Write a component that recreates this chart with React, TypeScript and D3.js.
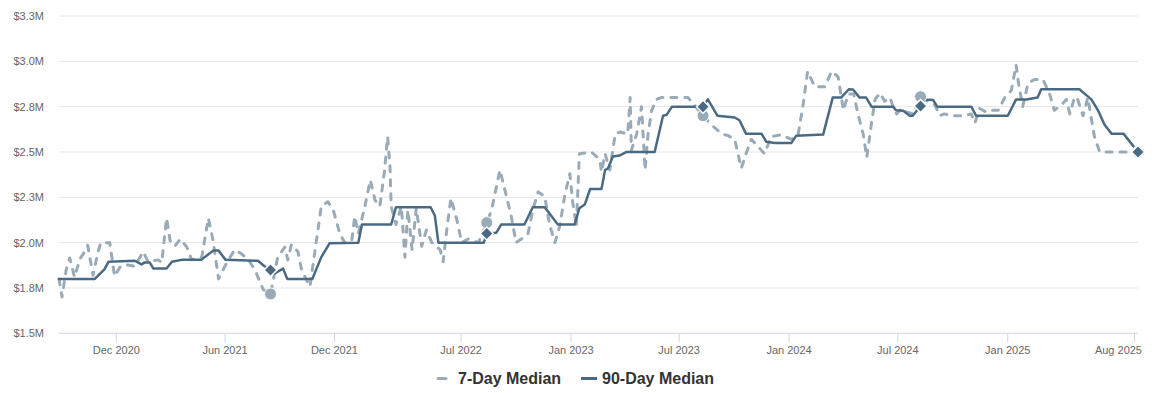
import React from "react";
import * as d3 from "d3";

const yTickValues = [1.5, 1.75, 2.0, 2.25, 2.5, 2.75, 3.0, 3.25];
const yTickLabels = ["$1.5M", "$1.8M", "$2.0M", "$2.3M", "$2.5M", "$2.8M", "$3.0M", "$3.3M"];

const xTickDates = ["2020-12-01", "2021-06-01", "2021-12-01", "2022-07-01", "2023-01-01", "2023-07-01", "2024-01-01", "2024-07-01", "2025-01-01", "2025-08-01"];
const xTickLabels = ["Dec 2020", "Jun 2021", "Dec 2021", "Jul 2022", "Jan 2023", "Jul 2023", "Jan 2024", "Jul 2024", "Jan 2025", "Aug 2025"];

const domainDates = ["2020-08-27", "2025-08-07"];

const markerDates = ["2021-08-16", "2022-08-13", "2023-08-10", "2024-08-08", "2025-08-07"];

const sevenDay: [string, number][] = [
  ["2020-08-27", 1.80], ["2020-09-01", 1.70], ["2020-09-08", 1.85], ["2020-09-14", 1.915], ["2020-09-22", 1.81],
  ["2020-10-01", 1.91], ["2020-10-11", 1.96], ["2020-10-14", 1.985], ["2020-10-23", 1.82], ["2020-10-31", 1.945],
  ["2020-11-05", 2.0], ["2020-11-20", 2.0], ["2020-11-28", 1.815], ["2020-12-08", 1.87], ["2020-12-18", 1.877],
  ["2021-01-01", 1.87], ["2021-01-15", 1.95], ["2021-01-23", 1.895], ["2021-02-09", 1.905], ["2021-02-15", 1.89],
  ["2021-02-23", 2.135], ["2021-03-01", 2.01], ["2021-03-09", 1.98], ["2021-03-18", 2.02], ["2021-03-29", 1.975],
  ["2021-04-06", 1.905], ["2021-04-23", 1.92], ["2021-05-04", 2.135], ["2021-05-12", 2.01], ["2021-05-21", 1.80],
  ["2021-06-03", 1.885], ["2021-06-17", 1.96], ["2021-06-28", 1.94], ["2021-07-10", 1.905], ["2021-07-21", 1.85],
  ["2021-08-04", 1.74], ["2021-08-16", 1.717], ["2021-08-28", 1.92], ["2021-09-09", 1.975], ["2021-09-14", 1.905],
  ["2021-09-20", 1.99], ["2021-10-01", 1.95], ["2021-10-07", 1.85], ["2021-10-21", 1.757], ["2021-11-01", 2.015],
  ["2021-11-09", 2.2], ["2021-11-20", 2.226], ["2021-11-29", 2.18], ["2021-12-10", 2.05], ["2021-12-18", 2.0],
  ["2021-12-30", 2.01], ["2022-01-04", 2.145], ["2022-01-10", 2.05], ["2022-01-21", 2.2], ["2022-01-30", 2.345],
  ["2022-02-07", 2.235], ["2022-02-15", 2.2], ["2022-02-23", 2.40], ["2022-02-28", 2.585], ["2022-03-04", 2.42],
  ["2022-03-06", 2.2], ["2022-03-14", 2.10], ["2022-03-23", 2.2], ["2022-03-29", 1.92], ["2022-04-03", 2.18],
  ["2022-04-10", 1.96], ["2022-04-17", 2.19], ["2022-04-26", 1.98], ["2022-05-04", 2.07], ["2022-05-13", 2.0],
  ["2022-05-27", 1.96], ["2022-06-01", 1.895], ["2022-06-07", 2.07], ["2022-06-14", 2.245], ["2022-06-24", 2.125],
  ["2022-07-02", 2.0], ["2022-07-13", 2.02], ["2022-07-30", 2.0], ["2022-08-13", 2.11], ["2022-08-21", 2.18],
  ["2022-09-04", 2.40], ["2022-09-15", 2.255], ["2022-09-23", 2.145], ["2022-10-01", 2.0], ["2022-10-10", 2.02],
  ["2022-10-21", 2.05], ["2022-10-29", 2.18], ["2022-11-07", 2.28], ["2022-11-18", 2.255], ["2022-11-26", 2.10],
  ["2022-12-05", 2.0], ["2022-12-13", 2.09], ["2022-12-22", 2.27], ["2022-12-30", 2.38], ["2023-01-04", 2.22],
  ["2023-01-10", 2.09], ["2023-01-15", 2.49], ["2023-02-04", 2.50], ["2023-02-18", 2.46], ["2023-02-21", 2.39],
  ["2023-02-27", 2.49], ["2023-03-07", 2.40], ["2023-03-16", 2.60], ["2023-03-24", 2.61], ["2023-04-06", 2.60],
  ["2023-04-10", 2.80], ["2023-04-12", 2.51], ["2023-04-21", 2.60], ["2023-04-29", 2.75], ["2023-05-05", 2.40],
  ["2023-05-10", 2.60], ["2023-05-16", 2.73], ["2023-05-24", 2.79], ["2023-06-01", 2.80], ["2023-06-12", 2.80],
  ["2023-06-24", 2.80], ["2023-07-05", 2.80], ["2023-07-16", 2.80], ["2023-08-10", 2.70], ["2023-08-24", 2.65],
  ["2023-09-10", 2.60], ["2023-09-21", 2.59], ["2023-10-02", 2.57], ["2023-10-13", 2.41], ["2023-10-22", 2.50],
  ["2023-10-30", 2.57], ["2023-11-10", 2.53], ["2023-11-21", 2.49], ["2023-12-02", 2.585], ["2023-12-19", 2.595],
  ["2024-01-05", 2.57], ["2024-01-16", 2.595], ["2024-01-24", 2.75], ["2024-02-01", 2.945], ["2024-02-13", 2.86],
  ["2024-03-01", 2.86], ["2024-03-12", 2.945], ["2024-03-23", 2.915], ["2024-04-01", 2.73], ["2024-04-09", 2.82],
  ["2024-04-18", 2.82], ["2024-04-26", 2.70], ["2024-05-04", 2.60], ["2024-05-10", 2.47], ["2024-05-18", 2.66],
  ["2024-05-24", 2.79], ["2024-06-01", 2.825], ["2024-06-09", 2.78], ["2024-06-18", 2.80], ["2024-06-23", 2.75],
  ["2024-06-29", 2.71], ["2024-07-07", 2.74], ["2024-07-16", 2.72], ["2024-07-27", 2.71], ["2024-08-08", 2.805],
  ["2024-08-20", 2.78], ["2024-09-01", 2.76], ["2024-09-09", 2.70], ["2024-09-17", 2.71], ["2024-09-28", 2.70],
  ["2024-10-15", 2.70], ["2024-11-01", 2.71], ["2024-11-07", 2.66], ["2024-11-15", 2.74], ["2024-11-26", 2.72],
  ["2024-12-05", 2.73], ["2024-12-16", 2.73], ["2024-12-27", 2.80], ["2025-01-07", 2.84], ["2025-01-15", 2.98],
  ["2025-01-19", 2.88], ["2025-01-26", 2.75], ["2025-02-04", 2.88], ["2025-02-15", 2.90], ["2025-03-01", 2.90],
  ["2025-03-12", 2.82], ["2025-03-20", 2.73], ["2025-04-01", 2.76], ["2025-04-09", 2.79], ["2025-04-15", 2.71],
  ["2025-04-23", 2.805], ["2025-04-28", 2.79], ["2025-05-07", 2.70], ["2025-05-15", 2.80], ["2025-05-26", 2.585],
  ["2025-06-04", 2.50], ["2025-08-07", 2.50],
];

const ninetyDay: [string, number][] = [
  ["2020-08-27", 1.80], ["2020-10-26", 1.80], ["2020-11-11", 1.853], ["2020-11-18", 1.895], ["2021-01-01", 1.90],
  ["2021-01-12", 1.88], ["2021-01-17", 1.89], ["2021-01-26", 1.89], ["2021-02-01", 1.857], ["2021-02-23", 1.857],
  ["2021-03-04", 1.895], ["2021-03-20", 1.905], ["2021-04-22", 1.905], ["2021-05-12", 1.956], ["2021-05-21", 1.956],
  ["2021-06-02", 1.905], ["2021-07-26", 1.90], ["2021-08-06", 1.87], ["2021-08-16", 1.849], ["2021-08-23", 1.83],
  ["2021-09-06", 1.857], ["2021-09-13", 1.80], ["2021-10-25", 1.80], ["2021-11-09", 1.92], ["2021-11-23", 1.997],
  ["2022-01-10", 2.0], ["2022-01-16", 2.10], ["2022-03-06", 2.10], ["2022-03-14", 2.195], ["2022-05-11", 2.195],
  ["2022-05-18", 2.15], ["2022-05-24", 2.0], ["2022-08-08", 2.0], ["2022-08-13", 2.05], ["2022-08-29", 2.055],
  ["2022-09-06", 2.10], ["2022-10-15", 2.10], ["2022-10-29", 2.195], ["2022-11-18", 2.195], ["2022-12-10", 2.10],
  ["2023-01-07", 2.10], ["2023-01-15", 2.19], ["2023-01-24", 2.21], ["2023-02-02", 2.296], ["2023-02-21", 2.296],
  ["2023-02-27", 2.40], ["2023-03-04", 2.41], ["2023-03-12", 2.475], ["2023-03-23", 2.48], ["2023-04-04", 2.50],
  ["2023-05-21", 2.50], ["2023-06-04", 2.70], ["2023-06-10", 2.705], ["2023-06-19", 2.75], ["2023-07-27", 2.75],
  ["2023-08-10", 2.75], ["2023-08-18", 2.79], ["2023-09-03", 2.70], ["2023-10-02", 2.69], ["2023-10-10", 2.675],
  ["2023-10-21", 2.60], ["2023-11-16", 2.60], ["2023-11-24", 2.556], ["2023-12-08", 2.55], ["2024-01-05", 2.55],
  ["2024-01-13", 2.59], ["2024-02-27", 2.596], ["2024-03-14", 2.80], ["2024-03-28", 2.80], ["2024-04-10", 2.846],
  ["2024-04-17", 2.845], ["2024-04-28", 2.80], ["2024-05-09", 2.80], ["2024-05-18", 2.75], ["2024-06-23", 2.75],
  ["2024-06-28", 2.73], ["2024-07-10", 2.727], ["2024-07-21", 2.70], ["2024-07-26", 2.70], ["2024-08-08", 2.754],
  ["2024-08-15", 2.79], ["2024-08-29", 2.787], ["2024-09-05", 2.75], ["2024-11-01", 2.75], ["2024-11-09", 2.70],
  ["2025-01-01", 2.70], ["2025-01-15", 2.79], ["2025-02-01", 2.79], ["2025-02-20", 2.80], ["2025-02-26", 2.846],
  ["2025-05-01", 2.846], ["2025-05-12", 2.815], ["2025-05-21", 2.79], ["2025-06-01", 2.73], ["2025-06-12", 2.65],
  ["2025-06-24", 2.60], ["2025-07-14", 2.60], ["2025-08-07", 2.50],
];

const legendNames = ["7-Day Median", "90-Day Median"];

const COLOR7 = "#9aabb8";
const COLOR90 = "#4a6a83";
const FONT = "'Liberation Sans', Arial, Helvetica, sans-serif";

const parse = d3.utcParse("%Y-%m-%d");

export default function App() {
  const W = 1168;
  const H = 393;
  const left = 59;
  const right = 1138;
  const top = 16;
  const bottom = 333.3;

  const x = d3.scaleUtc().domain(domainDates.map((d) => parse(d) as Date)).range([left, right]);
  const y = d3.scaleLinear().domain([1.5, 3.25]).range([bottom, top]);

  const line = d3
    .line<[string, number]>()
    .x((d) => x(parse(d[0]) as Date))
    .y((d) => y(d[1]))
    .curve(d3.curveLinear);

  const valueAt = (series: [string, number][], date: string) => {
    const f = series.find((d) => d[0] === date);
    return f ? f[1] : series[series.length - 1][1];
  };

  const diamond = (cx: number, cy: number, r: number) =>
    `M${cx},${cy - r}L${cx + r},${cy}L${cx},${cy + r}L${cx - r},${cy}Z`;

  return (
    <svg
      width={W}
      height={H}
      style={{ position: "absolute", left: 0, top: 0, background: "#fff", fontFamily: FONT }}
    >
      <rect x={0} y={0} width={W} height={H} fill="#ffffff" />
      {yTickValues.map((v, i) => (
        <g key={"y" + i}>
          {i > 0 && (
            <line x1={left} x2={right} y1={y(v)} y2={y(v)} stroke="#e6e6e6" strokeWidth={1} />
          )}
          <text x={44} y={y(v) + 4} textAnchor="end" fontSize={11} fill="#666666">
            {yTickLabels[i]}
          </text>
        </g>
      ))}
      <line x1={left} x2={right} y1={bottom} y2={bottom} stroke="#ccd6eb" strokeWidth={1} />
      {xTickDates.map((d, i) => {
        const px = x(parse(d) as Date);
        const overflow = px + 24 > 1142;
        return (
          <g key={"x" + i}>
            <line x1={px} x2={px} y1={bottom} y2={bottom + 9} stroke="#ccd6eb" strokeWidth={1} />
            <text
              x={overflow ? 1142 : px}
              y={bottom + 21}
              textAnchor={overflow ? "end" : "middle"}
              fontSize={11}
              fill="#666666"
            >
              {xTickLabels[i]}
            </text>
          </g>
        );
      })}
      <path
        d={line(sevenDay) || ""}
        fill="none"
        stroke={COLOR7}
        strokeWidth={3}
        strokeDasharray="6,8"
        strokeLinecap="round"
        strokeLinejoin="round"
      />
      <path
        d={line(ninetyDay) || ""}
        fill="none"
        stroke={COLOR90}
        strokeWidth={2.5}
        strokeLinejoin="round"
        strokeLinecap="round"
      />
      {markerDates.map((d, i) => {
        const px = x(parse(d) as Date);
        return (
          <circle
            key={"c" + i}
            cx={px}
            cy={y(valueAt(sevenDay, d))}
            r={6}
            fill={COLOR7}
            stroke="#ffffff"
            strokeWidth={1}
          />
        );
      })}
      {markerDates.map((d, i) => {
        const px = x(parse(d) as Date);
        return (
          <path
            key={"d" + i}
            d={diamond(px, y(valueAt(ninetyDay, d)), 6.5)}
            fill={COLOR90}
            stroke="#ffffff"
            strokeWidth={1.5}
          />
        );
      })}
      <g>
        <line x1={438} x2={446} y1={378.5} y2={378.5} stroke={COLOR7} strokeWidth={3} strokeLinecap="round" />
        <text x={458} y={384} fontSize={16} fontWeight="bold" fill="#333333">
          {legendNames[0]}
        </text>
        <line x1={581} x2={597} y1={378.5} y2={378.5} stroke={COLOR90} strokeWidth={3} />
        <text x={602} y={384} fontSize={16} fontWeight="bold" fill="#333333">
          {legendNames[1]}
        </text>
      </g>
    </svg>
  );
}
